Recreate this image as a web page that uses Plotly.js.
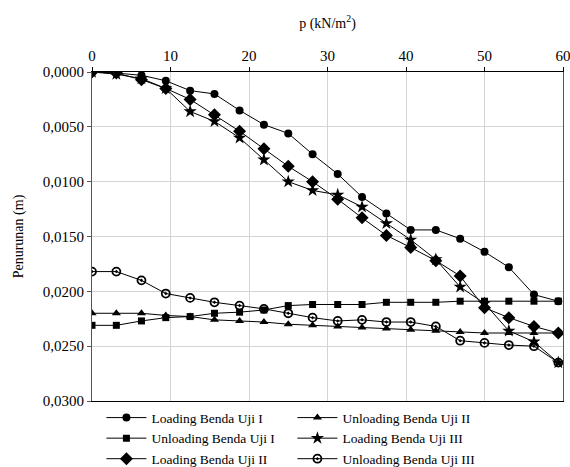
<!DOCTYPE html>
<html>
<head>
<meta charset="utf-8">
<script src="https://cdn.plot.ly/plotly-3.0.1.min.js"></script>
<style>html,body{margin:0;padding:0;background:#fff;}#chart{width:570px;height:467px;}</style>
</head>
<body>
<div id="chart"></div>
<script>
const p = [0, 3.1, 6.3, 9.4, 12.5, 15.6, 18.8, 21.9, 25.0, 28.1, 31.3, 34.4, 37.5, 40.6, 43.8, 46.9, 50.0, 53.1, 56.3, 59.4];
const loadingI = [0, 0.0001, 0.0003, 0.0008, 0.0017, 0.0020, 0.0035, 0.0048, 0.0056, 0.0075, 0.0093, 0.0114, 0.0129, 0.0144, 0.0144, 0.0152, 0.0164, 0.0178, 0.0203, 0.0209];
const unloadingI = [0.0231, 0.0231, 0.0227, 0.0224, 0.0223, 0.0220, 0.0219, 0.0217, 0.0213, 0.0212, 0.0212, 0.0212, 0.0210, 0.0210, 0.0210, 0.0209, 0.0209, 0.0209, 0.0209, 0.0209];
const loadingII = [0, 0.0001, 0.0007, 0.0015, 0.0025, 0.0039, 0.0054, 0.0070, 0.0086, 0.0100, 0.0116, 0.0133, 0.0149, 0.0160, 0.0172, 0.0186, 0.0215, 0.0224, 0.0232, 0.0238];
const unloadingII = [0.0220, 0.0220, 0.0220, 0.0222, 0.0223, 0.0226, 0.0227, 0.0228, 0.0230, 0.0231, 0.0232, 0.0233, 0.0234, 0.0235, 0.0236, 0.0237, 0.0238, 0.0238, 0.0238, 0.0238];
const loadingIII = [0, 0.0002, 0.0006, 0.0015, 0.0036, 0.0045, 0.0060, 0.0080, 0.0100, 0.0108, 0.0112, 0.0123, 0.0138, 0.0153, 0.0171, 0.0196, 0.0211, 0.0236, 0.0246, 0.0265];
const unloadingIII = [0.0182, 0.0182, 0.0190, 0.0202, 0.0206, 0.0210, 0.0213, 0.0216, 0.0220, 0.0224, 0.0227, 0.0226, 0.0228, 0.0228, 0.0232, 0.0245, 0.0247, 0.0249, 0.0250, 0.0265];
const names = ["Loading Benda Uji I", "Unloading Benda Uji II", "Unloading Benda Uji I", "Loading Benda Uji III", "Loading Benda Uji II", "Unloading Benda Uji III"];

const FONT = "'Liberation Serif', 'Times New Roman', serif";

function tr(name, y, symbol, size, lineW) {
  return {
    x: p, y: y, name: name, type: 'scatter', mode: 'lines+markers',
    line: {color: '#000', width: 1},
    marker: {symbol: symbol, size: size, color: '#000', line: {color: '#000', width: lineW || 0}}
  };
}

const traces = [
  tr(names[0], loadingI, 'circle', 8),
  tr(names[1], unloadingII, 'triangle-up', 8),
  tr(names[2], unloadingI, 'square', 7),
  tr(names[3], loadingIII, 'star', 10),
  tr(names[4], loadingII, 'diamond', 10),
  tr(names[5], unloadingIII, 'circle-open-dot', 8, 1.8)
];

const layout = {
  width: 570, height: 467,
  margin: {l: 92, r: 7, t: 72, b: 66, autoexpand: false},
  paper_bgcolor: '#fff', plot_bgcolor: '#fff',
  font: {family: FONT, size: 14, color: '#000'},
  separators: ',.',
  showlegend: true,
  xaxis: {
    range: [0, 60], dtick: 10, side: 'top',
    showgrid: true, gridcolor: '#d4d4d4', gridwidth: 1,
    showline: true, linecolor: '#000', linewidth: 1, mirror: true,
    ticks: 'outside', ticklen: 4, tickcolor: '#000',
    tickfont: {family: FONT, size: 15}, ticklabeloverflow: 'allow',
    zeroline: false,
    title: {text: 'p (kN/m<sup>2</sup>)', standoff: 16, font: {family: FONT, size: 14}}
  },
  yaxis: {
    range: [0.03, 0], dtick: 0.005, tickformat: '.4f',
    showgrid: true, gridcolor: '#d4d4d4', gridwidth: 1,
    showline: true, linecolor: '#555', linewidth: 1, mirror: true,
    ticks: 'outside', ticklen: 4, tickcolor: '#555',
    tickfont: {family: FONT, size: 15}, ticklabeloverflow: 'allow',
    zeroline: false,
    title: {text: 'Penurunan (m)', standoff: 15, font: {family: FONT, size: 14}}
  },
  legend: {
    orientation: 'h', x: 0.02, xanchor: 'left', y: -0.004, yanchor: 'top',
    entrywidth: 136, entrywidthmode: 'pixels', itemwidth: 40,
    font: {family: FONT, size: 13.5}, bgcolor: 'rgba(0,0,0,0)'
  }
};

Plotly.newPlot('chart', traces, layout, {displayModeBar: false, staticPlot: true});
</script>
</body>
</html>
